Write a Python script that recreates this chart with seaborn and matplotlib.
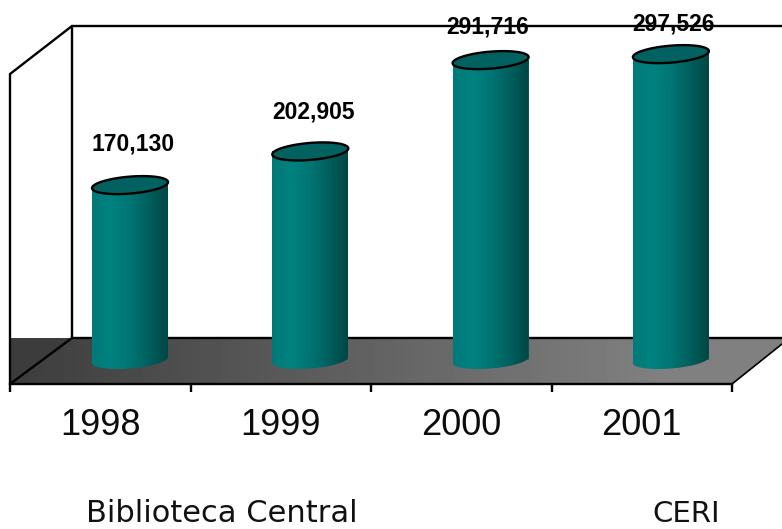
import numpy as np
import matplotlib
matplotlib.use('Agg')
import matplotlib.pyplot as plt
from matplotlib.patches import Polygon
from matplotlib.colors import LinearSegmentedColormap
import seaborn as sns

years = ['1998', '1999', '2000', '2001']
visits = [170130, 202905, 291716, 297526]
value_labels = ['170,130', '202,905', '291,716', '297,526']
groups = ['Biblioteca Central', 'CERI']

sns.set_style('white')
plt.rcParams['font.family'] = ['Liberation Sans', 'DejaVu Sans']

W, H = 782, 529
PX_PER_UNIT = 0.001028   # picture pixels per visit
BASE_Y = 360             # picture row of the zero line
STEP = 180.3             # picture pixels between bars
FIRST_X = 130

fig = plt.figure(figsize=(W / 100, H / 100), dpi=100, facecolor='white')

# background axes in picture pixels for the fake 3d walls and floor
bg = fig.add_axes([0, 0, 1, 1])
bg.set_xlim(0, W)
bg.set_ylim(H, 0)
bg.axis('off')

floor = Polygon([(10, 384), (72, 338), (782, 338), (782, 344), (732, 384)], closed=True, fc='none', ec='none')
bg.add_patch(floor)
shade = np.clip(np.linspace(0.24, 0.55, 256), 0, 0.5).reshape(1, -1)
im = bg.imshow(shade, extent=(10, 782, 384, 338), cmap='gray', vmin=0, vmax=1, aspect='auto')
im.set_clip_path(floor)
bg.add_patch(Polygon([(10, 338), (72, 338), (10, 384)], closed=True, fc='#3c3c3c', ec='none'))
bg.set_xlim(0, W)
bg.set_ylim(H, 0)

lw = 1.7
bg.plot([10, 10, 72, 72, 10], [384, 74, 26, 338, 384], color='black', lw=lw)
bg.plot([72, 782], [26, 26], color='black', lw=lw)
bg.plot([72, 782], [338, 338], color='black', lw=lw)
bg.plot([732, 782], [384, 344], color='black', lw=1.2)

# main axes holds the bars and the real ticks
ax = fig.add_axes([10 / W, 1 - 384 / H, 722 / W, (384 - 26) / H])
ax.patch.set_alpha(0)
sns.barplot(x=years, y=visits, color='#007070', width=76 / STEP, ax=ax, saturation=1)

left = (10 - FIRST_X) / STEP
right = (732 - FIRST_X) / STEP
ax.set_xlim(left, right)
ax.set_ylim(-(384 - BASE_Y) / PX_PER_UNIT, (BASE_Y - 26) / PX_PER_UNIT)
ax.set_ylabel('')
ax.set_yticks([])
sns.despine(ax=ax, left=True, top=True, right=True)
ax.spines['bottom'].set_linewidth(lw)
ax.spines['bottom'].set_color('black')

edges = [left + i * (right - left) / 4 for i in range(5)]
centers = [(edges[i] + edges[i + 1]) / 2 for i in range(4)]
ax.set_xticks(edges)
ax.set_xticklabels([''] * 5)
ax.tick_params(axis='x', which='major', length=6, width=lw, color='black', bottom=True)
ax.set_xticks(centers, years, minor=True)
ax.tick_params(axis='x', which='minor', length=0, pad=17, labelsize=26, labelcolor='#0c0c0c')

# turn the flat bars into cylinders
teal = LinearSegmentedColormap.from_list('teal', ['#007a78', '#008280', '#007573', '#00605e', '#004644'])
gradient = np.linspace(0, 1, 128).reshape(1, -1)
rx = 38 / STEP
ry = 8.5 / PX_PER_UNIT
skew = 3 / PX_PER_UNIT
t = np.linspace(0, 2 * np.pi, 90)
# picture-pixel nudges for the value labels, they do not sit evenly above the bars
nudges = [(3, 41), (3, 39), (-3, 33), (3, 30)]

for bar, text, (dx, dy) in zip(ax.patches, value_labels, nudges):
    cx = bar.get_x() + bar.get_width() / 2
    top = bar.get_height()
    bar.set_edgecolor('none')
    bar.set_linewidth(0)

    lower = np.linspace(np.pi, 2 * np.pi, 40)
    bx = cx + rx * np.cos(lower)
    by = ry * np.sin(lower) + skew * np.cos(lower)
    outline = list(zip(bx, by)) + [(cx + rx, top), (cx - rx, top)]
    body = Polygon(outline, closed=True, fc='none', ec='none', transform=ax.transData)
    ax.add_patch(body)
    img = ax.imshow(gradient, extent=(cx - rx, cx + rx, -ry * 1.5, top), cmap=teal,
                    aspect='auto', zorder=3)
    img.set_clip_path(body)

    lid = list(zip(cx + rx * np.cos(t), top + ry * np.sin(t) + skew * np.cos(t)))
    ax.add_patch(Polygon(lid, closed=True, fc='#006260', ec='black', lw=lw, zorder=4, clip_on=False))

    ax.text(cx + dx / STEP, top + dy / PX_PER_UNIT, text, ha='center', va='center',
            fontsize=16.5, fontweight='bold', color='black', zorder=5)

ax.set_xlim(left, right)
ax.set_ylim(-(384 - BASE_Y) / PX_PER_UNIT, (BASE_Y - 26) / PX_PER_UNIT)

# group captions under the years
fig.text(222 / W, 1 - 514 / H, groups[0], ha='center', va='center', fontsize=22,
         family=['DejaVu Sans'], color='#111111')
fig.text(686 / W, 1 - 514 / H, groups[1], ha='center', va='center', fontsize=21,
         family=['DejaVu Sans'], color='#111111')

fig.savefig('out.png', dpi=100)
